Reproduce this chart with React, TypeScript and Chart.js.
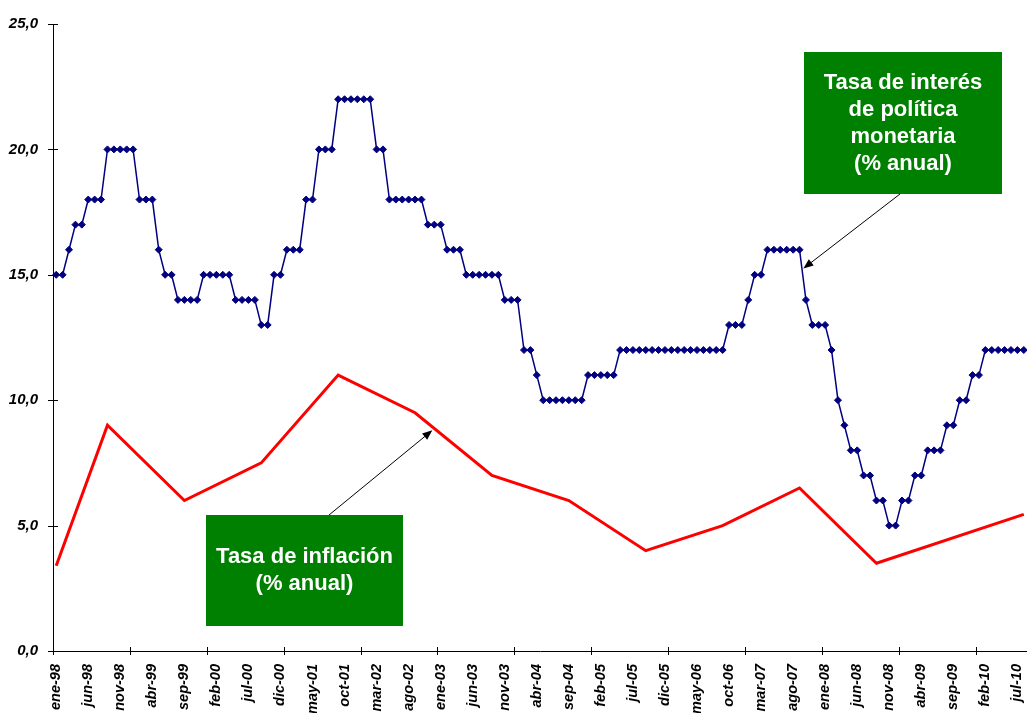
import { useEffect, useRef } from 'react';
import { Chart, registerables } from 'chart.js';

Chart.register(...registerables);

// Monthly categories: ene-98 .. ago-10
const MONTH_NAMES = ['ene', 'feb', 'mar', 'abr', 'may', 'jun', 'jul', 'ago', 'sep', 'oct', 'nov', 'dic'];
const YEARS = ['98', '99', '00', '01', '02', '03', '04', '05', '06', '07', '08', '09', '10'];
const MONTH_COUNT = 152;
const CATEGORIES = YEARS.flatMap((y) => MONTH_NAMES.map((m) => `${m}-${y}`)).slice(0, MONTH_COUNT);

// Label every 5th month, tick mark every 12th
const LABEL_STEP = 5;
const YEAR_STEP = 12;

// Tasa de interés de política monetaria (% anual), one value per month
const POLICY_RATE = [
  15, 15, 16, 17, 17, 18, 18, 18, 20, 20, 20, 20, // 1998
  20, 18, 18, 18, 16, 15, 15, 14, 14, 14, 14, 15, // 1999
  15, 15, 15, 15, 14, 14, 14, 14, 13, 13, 15, 15, // 2000
  16, 16, 16, 18, 18, 20, 20, 20, 22, 22, 22, 22, // 2001
  22, 22, 20, 20, 18, 18, 18, 18, 18, 18, 17, 17, // 2002
  17, 16, 16, 16, 15, 15, 15, 15, 15, 15, 14, 14, // 2003
  14, 12, 12, 11, 10, 10, 10, 10, 10, 10, 10, 11, // 2004
  11, 11, 11, 11, 12, 12, 12, 12, 12, 12, 12, 12, // 2005
  12, 12, 12, 12, 12, 12, 12, 12, 12, 13, 13, 13, // 2006
  14, 15, 15, 16, 16, 16, 16, 16, 16, 14, 13, 13, // 2007
  13, 12, 10, 9, 8, 8, 7, 7, 6, 6, 5, 5,          // 2008
  6, 6, 7, 7, 8, 8, 8, 9, 9, 10, 10, 11,          // 2009
  11, 12, 12, 12, 12, 12, 12, 12,                 // 2010
];

// Tasa de inflación (% anual)
const INFLATION_DATES = ['ene-98', 'sep-98', 'sep-99', 'sep-00', 'sep-01', 'sep-02', 'sep-03', 'sep-04', 'sep-05', 'sep-06', 'sep-07', 'sep-08', 'ago-10'];
const INFLATION_VALUES = [3.4, 9.0, 6.0, 7.5, 11.0, 9.5, 7.0, 6.0, 4.0, 5.0, 6.5, 3.5, 5.45];

// Y axis
const Y_MIN = 0;
const Y_MAX = 25;
const Y_STEP = 5;

const FONT = '"Liberation Sans", Arial, sans-serif';

// Green call-out boxes with arrows pointing at a (month index, value) on each series
const CALLOUTS = [
  {
    lines: ['Tasa de interés', 'de política', 'monetaria', '(% anual)'],
    box: { x: 804, y: 52, w: 198, h: 142 },
    tail: { x: 900, y: 194 },
    target: [116.6, 15.25],
  },
  {
    lines: ['Tasa de inflación', '(% anual)'],
    box: { x: 206, y: 515, w: 197, h: 111 },
    tail: { x: 329, y: 515 },
    target: [58.7, 8.8],
  },
];

const axisTicksPlugin = {
  id: 'axisTicks',
  afterDraw(chart: any) {
    const { ctx, chartArea, scales } = chart;
    const x = scales.x;
    const y = scales.y;
    ctx.save();
    ctx.strokeStyle = '#000';
    ctx.lineWidth = 1;
    ctx.beginPath();
    y.ticks.forEach((t: any) => {
      const py = Math.round(y.getPixelForValue(t.value)) + 0.5;
      ctx.moveTo(chartArea.left - 5, py);
      ctx.lineTo(chartArea.left + 5, py);
    });
    const half = (x.getPixelForValue(1) - x.getPixelForValue(0)) / 2;
    for (let i = 0; i < CATEGORIES.length; i += YEAR_STEP) {
      const px = Math.round(x.getPixelForValue(i) - half) + 0.5;
      ctx.moveTo(px, chartArea.bottom - 4);
      ctx.lineTo(px, chartArea.bottom + 4);
    }
    ctx.stroke();
    ctx.restore();
  },
};

const calloutPlugin = {
  id: 'callouts',
  afterDraw(chart: any) {
    const { ctx, scales } = chart;
    const x = scales.x;
    const y = scales.y;
    ctx.save();
    for (const c of CALLOUTS) {
      ctx.fillStyle = '#008000';
      ctx.fillRect(c.box.x, c.box.y, c.box.w, c.box.h);
      ctx.fillStyle = '#ffffff';
      ctx.font = `bold 22px ${FONT}`;
      ctx.textAlign = 'center';
      ctx.textBaseline = 'middle';
      const cx = c.box.x + c.box.w / 2;
      const cy = c.box.y + c.box.h / 2;
      c.lines.forEach((t, i) => {
        ctx.fillText(t, cx, cy + (i - (c.lines.length - 1) / 2) * 27);
      });

      const tx = x.getPixelForValue(c.target[0]);
      const ty = y.getPixelForValue(c.target[1]);
      const ang = Math.atan2(ty - c.tail.y, tx - c.tail.x);
      const headLen = 10;
      const headW = 4;
      ctx.strokeStyle = '#000';
      ctx.lineWidth = 1;
      ctx.beginPath();
      ctx.moveTo(c.tail.x, c.tail.y);
      ctx.lineTo(tx - Math.cos(ang) * headLen * 0.8, ty - Math.sin(ang) * headLen * 0.8);
      ctx.stroke();
      ctx.fillStyle = '#000';
      ctx.beginPath();
      ctx.moveTo(tx, ty);
      ctx.lineTo(tx - Math.cos(ang) * headLen - Math.sin(ang) * headW, ty - Math.sin(ang) * headLen + Math.cos(ang) * headW);
      ctx.lineTo(tx - Math.cos(ang) * headLen + Math.sin(ang) * headW, ty - Math.sin(ang) * headLen - Math.cos(ang) * headW);
      ctx.closePath();
      ctx.fill();
    }
    ctx.restore();
  },
};

export default function App() {
  const canvasRef = useRef<HTMLCanvasElement>(null);

  useEffect(() => {
    const chart = new Chart(canvasRef.current as HTMLCanvasElement, {
      type: 'line',
      data: {
        labels: CATEGORIES,
        datasets: [
          {
            label: 'Tasa de interés de política monetaria',
            data: POLICY_RATE,
            borderColor: '#000080',
            backgroundColor: '#000080',
            borderWidth: 1.5,
            pointStyle: 'rectRot',
            pointRadius: 3.5,
            pointBorderWidth: 1,
            pointBackgroundColor: '#000080',
            pointBorderColor: '#000080',
            tension: 0,
          },
          {
            label: 'Tasa de inflación',
            data: INFLATION_DATES.map((d, i) => ({ x: d, y: INFLATION_VALUES[i] })),
            borderColor: '#ff0000',
            backgroundColor: '#ff0000',
            borderWidth: 3,
            pointRadius: 0,
            spanGaps: true,
            tension: 0,
          },
        ],
      },
      options: {
        animation: false,
        responsive: true,
        maintainAspectRatio: false,
        layout: { autoPadding: false, padding: { top: 21, left: 0, right: 0, bottom: 0 } },
        plugins: {
          legend: { display: false },
          tooltip: { enabled: false },
        },
        scales: {
          x: {
            type: 'category',
            offset: true,
            grid: { display: false, drawTicks: false },
            border: { display: true, color: '#000', width: 1 },
            ticks: {
              autoSkip: false,
              maxRotation: 90,
              minRotation: 90,
              padding: 13,
              color: '#000',
              font: { family: FONT, size: 14.5, weight: 'bold', style: 'italic' },
              callback: (_v: any, i: number) => (i % LABEL_STEP === 0 ? CATEGORIES[i] : ''),
            },
            afterFit: (s: any) => {
              s.height = 62;
              s.paddingLeft = 0;
              s.paddingRight = 0;
            },
          },
          y: {
            min: Y_MIN,
            max: Y_MAX,
            grid: { display: false, drawTicks: false },
            border: { display: true, color: '#000', width: 1 },
            ticks: {
              stepSize: Y_STEP,
              padding: 15,
              color: '#000',
              font: { family: FONT, size: 15, weight: 'bold', style: 'italic' },
              callback: (v: any) => Number(v).toFixed(1).replace('.', ','),
            },
            afterFit: (s: any) => {
              s.width = 53;
            },
          },
        },
      },
      plugins: [axisTicksPlugin, calloutPlugin],
    } as any);
    return () => chart.destroy();
  }, []);

  return (
    <div style={{ position: 'absolute', left: 0, top: 0, width: 1027, height: 713, background: '#ffffff' }}>
      <canvas ref={canvasRef} />
    </div>
  );
}
